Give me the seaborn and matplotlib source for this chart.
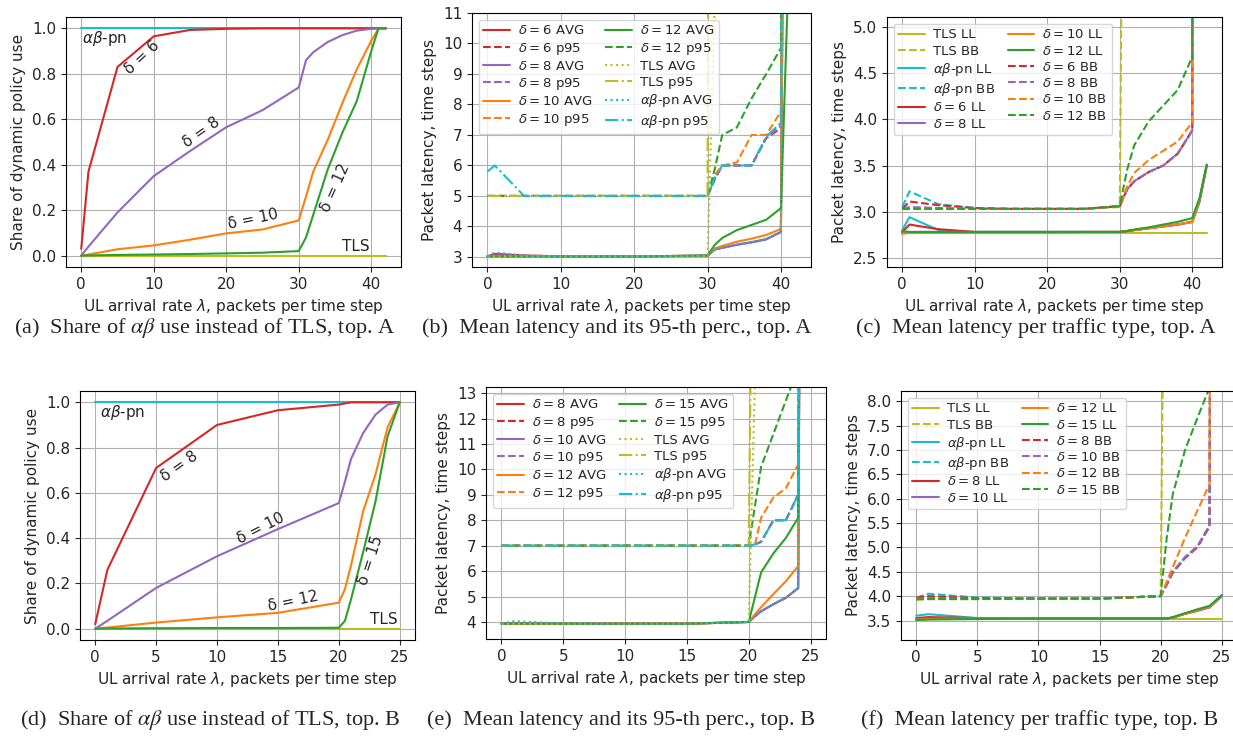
import seaborn as sns
import matplotlib.pyplot as plt

sns.set_style('ticks', {'axes.grid': True, 'grid.color': '#b0b0b0'})
plt.rcParams['font.family'] = ['DejaVu Sans']
plt.rcParams['mathtext.fontset'] = 'dejavusans'

C6, C8, C10, C12 = '#d62728', '#9467bd', '#ff7f0e', '#2ca02c'
CTLS, CAB = '#bcbd22', '#17becf'

# ---------------- topology A ----------------
x_a = [0, 1, 5, 10, 15, 20, 25, 30, 31, 32, 34, 36, 38, 40, 41, 42]

share_a_ab = [1.0] * 16
share_a_tls = [0.0] * 16
share_a_d6 = [0.03, 0.37, 0.83, 0.965, 0.993, 0.998, 1.0, 1.0, 1.0, 1.0, 1.0, 1.0, 1.0, 1.0, 1.0, 1.0]
share_a_d8 = [0.0, 0.04, 0.19, 0.35, 0.46, 0.565, 0.64, 0.74, 0.86, 0.895, 0.94, 0.97, 0.99, 0.998, 1.0, 1.0]
share_a_d10 = [0.0, 0.005, 0.028, 0.045, 0.07, 0.098, 0.115, 0.155, 0.26, 0.37, 0.51, 0.67, 0.82, 0.945, 1.0, 1.0]
share_a_d12 = [0.0, 0.001, 0.003, 0.005, 0.007, 0.01, 0.013, 0.02, 0.08, 0.18, 0.38, 0.54, 0.68, 0.9, 1.0, 1.0]

avg_a_d6 = [3.02, 3.1, 3.05, 3.02, 3.02, 3.02, 3.03, 3.04, 3.25, 3.3, 3.4, 3.48, 3.58, 3.82, 40, 80]
p95_a_d6 = [5, 5, 5, 5, 5, 5, 5, 5, 5.55, 6, 6, 6, 6.9, 7.22, 60, 100]
avg_a_d8 = [3.02, 3.05, 3.03, 3.02, 3.02, 3.02, 3.03, 3.04, 3.24, 3.3, 3.4, 3.48, 3.58, 3.82, 40, 80]
p95_a_d8 = [5, 5, 5, 5, 5, 5, 5, 5, 5.55, 6, 6, 6, 6.9, 7.3, 60, 100]
avg_a_d10 = [3.02, 3.03, 3.02, 3.02, 3.02, 3.02, 3.03, 3.04, 3.28, 3.36, 3.5, 3.6, 3.72, 3.92, 40, 80]
p95_a_d10 = [5, 5, 5, 5, 5, 5, 5, 5, 5.7, 6, 6.1, 7, 7, 7.77, 60, 100]
avg_a_d12 = [3.02, 3.02, 3.02, 3.02, 3.02, 3.02, 3.03, 3.05, 3.4, 3.62, 3.88, 4.05, 4.22, 4.6, 12, 60]
p95_a_d12 = [5, 5, 5, 5, 5, 5, 5, 5, 5.9, 7.0, 7.25, 8.2, 9.0, 9.85, 60, 100]
avg_a_tls = [3.02, 3.02, 3.02, 3.02, 3.02, 3.02, 3.02, 3.03, 11.5, 20, 30, 40, 50, 60, 70, 80]
p95_a_tls = [5, 5, 5, 5, 5, 5, 5, 5, 100, 100, 100, 100, 100, 100, 100, 100]
avg_a_ab = [3.02, 3.15, 3.04, 3.02, 3.02, 3.02, 3.03, 3.04, 3.25, 3.3, 3.4, 3.48, 3.58, 3.84, 40, 80]
p95_a_ab = [5.8, 6.0, 5.0, 5, 5, 5, 5, 5, 5.6, 6, 6, 6, 6.95, 7.4, 60, 100]

ll_a_tls = [2.77] * 16
bb_a_tls = [3.03, 3.03, 3.03, 3.03, 3.03, 3.03, 3.03, 3.05, 13, 20, 30, 40, 50, 60, 70, 80]
ll_a_ab = [2.8, 2.94, 2.8, 2.78, 2.78, 2.78, 2.78, 2.78, 2.79, 2.8, 2.82, 2.84, 2.86, 2.89, 3.1, 3.5]
bb_a_ab = [3.05, 3.22, 3.08, 3.04, 3.03, 3.03, 3.03, 3.06, 3.24, 3.33, 3.43, 3.5, 3.63, 3.88, 60, 100]
ll_a_d6 = [2.78, 2.86, 2.81, 2.78, 2.78, 2.78, 2.78, 2.78, 2.79, 2.8, 2.82, 2.84, 2.86, 2.89, 3.12, 3.5]
ll_a_d8 = [2.77, 2.78, 2.78, 2.78, 2.78, 2.78, 2.78, 2.78, 2.79, 2.8, 2.82, 2.84, 2.86, 2.89, 3.12, 3.5]
ll_a_d10 = [2.76, 2.77, 2.77, 2.77, 2.77, 2.77, 2.78, 2.78, 2.79, 2.8, 2.82, 2.84, 2.865, 2.885, 3.13, 3.51]
ll_a_d12 = [2.79, 2.78, 2.78, 2.78, 2.78, 2.78, 2.78, 2.78, 2.79, 2.806, 2.83, 2.86, 2.89, 2.93, 3.15, 3.51]
bb_a_d6 = [3.03, 3.11, 3.07, 3.04, 3.03, 3.03, 3.03, 3.06, 3.24, 3.33, 3.43, 3.5, 3.63, 3.88, 60, 100]
bb_a_d8 = [3.03, 3.05, 3.04, 3.03, 3.03, 3.03, 3.03, 3.06, 3.24, 3.33, 3.43, 3.5, 3.63, 3.88, 60, 100]
bb_a_d10 = [3.03, 3.03, 3.03, 3.03, 3.03, 3.03, 3.03, 3.06, 3.27, 3.42, 3.56, 3.66, 3.76, 3.97, 60, 100]
bb_a_d12 = [3.03, 3.03, 3.03, 3.03, 3.03, 3.03, 3.03, 3.06, 3.45, 3.72, 3.98, 4.15, 4.32, 4.68, 60, 100]

# ---------------- topology B ----------------
x_b = [0, 1, 5, 10, 15, 20, 20.5, 21, 22, 23, 24, 25]

share_b_ab = [1.0] * 12
share_b_tls = [0.0] * 12
share_b_d8 = [0.02, 0.26, 0.71, 0.9, 0.965, 0.99, 0.995, 1.0, 1.0, 1.0, 1.0, 1.0]
share_b_d10 = [0.0, 0.035, 0.18, 0.32, 0.44, 0.555, 0.65, 0.75, 0.865, 0.945, 0.99, 1.0]
share_b_d12 = [0.0, 0.005, 0.027, 0.05, 0.07, 0.115, 0.175, 0.28, 0.52, 0.68, 0.89, 1.0]
share_b_d15 = [0.0, 0.001, 0.002, 0.003, 0.003, 0.004, 0.035, 0.13, 0.34, 0.56, 0.85, 1.0]

avg_b_d8 = [3.93, 3.95, 3.93, 3.93, 3.93, 4.0, 4.22, 4.42, 4.7, 4.95, 5.33, 100]
p95_b_d8 = [7, 7, 7, 7, 7, 7, 7.05, 7.15, 8.0, 8.0, 9.0, 100]
avg_b_d10 = [3.93, 3.94, 3.93, 3.93, 3.93, 4.0, 4.22, 4.42, 4.7, 4.95, 5.33, 100]
p95_b_d10 = [7, 7, 7, 7, 7, 7, 7.05, 7.15, 8.0, 8.0, 9.0, 100]
avg_b_d12 = [3.93, 3.93, 3.93, 3.93, 3.93, 4.0, 4.3, 4.58, 5.1, 5.6, 6.2, 100]
p95_b_d12 = [7, 7, 7, 7, 7, 7, 7.03, 8.1, 8.9, 9.25, 10.2, 100]
avg_b_d15 = [3.93, 3.93, 3.93, 3.93, 3.93, 4.0, 4.97, 5.95, 6.7, 7.3, 8.1, 100]
p95_b_d15 = [7, 7, 7, 7, 7, 7, 8.55, 10.1, 11.4, 12.7, 14, 100]
avg_b_tls = [3.93, 3.93, 3.93, 3.93, 3.93, 4.0, 13.4, 30, 60, 80, 90, 100]
p95_b_tls = [7, 7, 7, 7, 7, 7, 29, 60, 80, 90, 100, 100]
avg_b_ab = [3.93, 4.03, 3.94, 3.93, 3.93, 4.0, 4.22, 4.42, 4.7, 4.95, 5.33, 100]
p95_b_ab = [7, 7, 7, 7, 7, 7, 7.05, 7.15, 8.0, 8.0, 9.0, 100]

ll_b_tls = [3.53] * 12
bb_b_tls = [3.95, 3.95, 3.95, 3.95, 3.95, 4.0, 17, 30, 50, 70, 90, 100]
ll_b_ab = [3.6, 3.63, 3.55, 3.54, 3.54, 3.54, 3.54, 3.56, 3.64, 3.71, 3.79, 4.02]
bb_b_ab = [3.97, 4.05, 3.97, 3.95, 3.95, 4.0, 4.25, 4.5, 4.8, 5.02, 5.45, 100]
ll_b_d8 = [3.55, 3.57, 3.55, 3.54, 3.54, 3.54, 3.54, 3.56, 3.64, 3.7, 3.77, 4.0]
ll_b_d10 = [3.53, 3.54, 3.54, 3.54, 3.54, 3.54, 3.54, 3.56, 3.64, 3.7, 3.77, 4.0]
ll_b_d12 = [3.52, 3.53, 3.54, 3.54, 3.54, 3.54, 3.54, 3.56, 3.64, 3.71, 3.78, 4.01]
ll_b_d15 = [3.51, 3.52, 3.53, 3.54, 3.54, 3.54, 3.54, 3.57, 3.65, 3.73, 3.8, 4.02]
bb_b_d8 = [3.97, 4.0, 3.96, 3.95, 3.95, 4.0, 4.23, 4.48, 4.78, 5.0, 5.42, 100]
bb_b_d10 = [3.95, 3.96, 3.95, 3.95, 3.95, 4.0, 4.25, 4.5, 4.8, 5.02, 5.45, 100]
bb_b_d12 = [3.94, 3.94, 3.94, 3.95, 3.95, 4.0, 4.3, 4.6, 5.2, 5.75, 6.3, 100]
bb_b_d15 = [3.93, 3.94, 3.94, 3.95, 3.95, 4.0, 5.2, 6.1, 7.0, 7.65, 8.28, 100]

W, H = 1233, 737
fig = plt.figure(figsize=(W / 100, H / 100), dpi=100)


def add_ax(l, r, t, b):
    return fig.add_axes([l / W, 1 - b / H, (r - l) / W, (b - t) / H])


def draw(ax, x, series):
    for y, c, ls, lab in series:
        sns.lineplot(x=x, y=y, ax=ax, color=c, linestyle=ls, label=lab, lw=1.5, legend=False)


XL = r'UL arrival rate $\lambda$, packets per time step'
FS = 11
d = lambda n: r'$\delta=%d$' % n
ab = r'$\alpha\beta$-pn'


def finish(ax, ylab, with_legend=False):
    ax.set_xlabel(XL, fontsize=FS)
    ax.set_ylabel(ylab, fontsize=FS)
    ax.tick_params(labelsize=FS)
    for s in ax.spines.values():
        s.set_visible(True)
        s.set_color('black')
    if with_legend:
        ax.legend(ncol=2, loc='upper left', fontsize=9.5, labelspacing=0.25,
                  columnspacing=1.0, handletextpad=0.6, borderpad=0.35)


def share_panel(ax, x, series, labels, xticks):
    draw(ax, x, series)
    ax.set_xticks(xticks)
    ax.set_yticks([0.0, 0.2, 0.4, 0.6, 0.8, 1.0])
    for tx, ty, s, rot in labels:
        ax.text(tx, ty, s, fontsize=FS, rotation=rot, ha='center', va='center',
                rotation_mode='anchor')
    finish(ax, 'Share of dynamic policy use')


# (a)
ax = add_ax(66, 401, 17, 267)
share_panel(ax, x_a, [
    (share_a_ab, CAB, '-', None), (share_a_tls, CTLS, '-', None),
    (share_a_d6, C6, '-', None), (share_a_d8, C8, '-', None),
    (share_a_d10, C10, '-', None), (share_a_d12, C12, '-', None)],
    [(3.2, 0.955, ab, 0), (8.4, 0.872, 'δ = 6', 43), (16.6, 0.544, 'δ = 8', 35),
     (23.7, 0.16, 'δ = 10', 12), (35.1, 0.30, 'δ = 12', 66), (37.9, 0.04, 'TLS', 0)],
    [0, 10, 20, 30, 40])

# (b)
ax = add_ax(472, 811, 13, 267)
draw(ax, x_a, [
    (avg_a_d6, C6, '-', d(6) + ' AVG'), (p95_a_d6, C6, '--', d(6) + ' p95'),
    (avg_a_d8, C8, '-', d(8) + ' AVG'), (p95_a_d8, C8, '--', d(8) + ' p95'),
    (avg_a_d10, C10, '-', d(10) + ' AVG'), (p95_a_d10, C10, '--', d(10) + ' p95'),
    (avg_a_d12, C12, '-', d(12) + ' AVG'), (p95_a_d12, C12, '--', d(12) + ' p95'),
    (avg_a_tls, CTLS, ':', 'TLS AVG'), (p95_a_tls, CTLS, '-.', 'TLS p95'),
    (avg_a_ab, CAB, ':', ab + ' AVG'), (p95_a_ab, CAB, '-.', ab + ' p95')])
ax.set_xlim(-2.1, 44.1)
ax.set_ylim(2.67, 11)
ax.set_xticks([0, 10, 20, 30, 40])
ax.set_yticks(range(3, 12))
finish(ax, 'Packet latency, time steps', True)

# (c)
ax = add_ax(887, 1222, 17, 267)
draw(ax, x_a, [
    (ll_a_tls, CTLS, '-', 'TLS LL'), (bb_a_tls, CTLS, '--', 'TLS BB'),
    (ll_a_ab, CAB, '-', ab + ' LL'), (bb_a_ab, CAB, '--', ab + ' BB'),
    (ll_a_d6, C6, '-', d(6) + ' LL'), (ll_a_d8, C8, '-', d(8) + ' LL'),
    (ll_a_d10, C10, '-', d(10) + ' LL'), (ll_a_d12, C12, '-', d(12) + ' LL'),
    (bb_a_d6, C6, '--', d(6) + ' BB'), (bb_a_d8, C8, '--', d(8) + ' BB'),
    (bb_a_d10, C10, '--', d(10) + ' BB'), (bb_a_d12, C12, '--', d(12) + ' BB')])
ax.set_xlim(-2.1, 44.1)
ax.set_ylim(2.4, 5.11)
ax.set_xticks([0, 10, 20, 30, 40])
ax.set_yticks([2.5, 3.0, 3.5, 4.0, 4.5, 5.0])
finish(ax, 'Packet latency, time steps', True)

# (d)
ax = add_ax(80, 415, 391, 640)
share_panel(ax, x_b, [
    (share_b_ab, CAB, '-', None), (share_b_tls, CTLS, '-', None),
    (share_b_d8, C6, '-', None), (share_b_d10, C8, '-', None),
    (share_b_d12, C10, '-', None), (share_b_d15, C12, '-', None)],
    [(2.25, 0.954, ab, 0), (6.9, 0.716, 'δ = 8', 35), (13.55, 0.444, 'δ = 10', 27),
     (16.2, 0.12, 'δ = 12', 12), (22.6, 0.30, 'δ = 15', 72), (23.7, 0.04, 'TLS', 0)],
    [0, 5, 10, 15, 20, 25])

# (e)
ax = add_ax(486, 826, 387, 639)
draw(ax, x_b, [
    (avg_b_d8, C6, '-', d(8) + ' AVG'), (p95_b_d8, C6, '--', d(8) + ' p95'),
    (avg_b_d10, C8, '-', d(10) + ' AVG'), (p95_b_d10, C8, '--', d(10) + ' p95'),
    (avg_b_d12, C10, '-', d(12) + ' AVG'), (p95_b_d12, C10, '--', d(12) + ' p95'),
    (avg_b_d15, C12, '-', d(15) + ' AVG'), (p95_b_d15, C12, '--', d(15) + ' p95'),
    (avg_b_tls, CTLS, ':', 'TLS AVG'), (p95_b_tls, CTLS, '-.', 'TLS p95'),
    (avg_b_ab, CAB, ':', ab + ' AVG'), (p95_b_ab, CAB, '-.', ab + ' p95')])
ax.set_xlim(-1.25, 26.25)
ax.set_ylim(3.33, 13.24)
ax.set_xticks([0, 5, 10, 15, 20, 25])
ax.set_yticks(range(4, 14))
finish(ax, 'Packet latency, time steps', True)

# (f)
ax = add_ax(901, 1237, 391, 640)
draw(ax, x_b, [
    (ll_b_tls, CTLS, '-', 'TLS LL'), (bb_b_tls, CTLS, '--', 'TLS BB'),
    (ll_b_ab, CAB, '-', ab + ' LL'), (bb_b_ab, CAB, '--', ab + ' BB'),
    (ll_b_d8, C6, '-', d(8) + ' LL'), (ll_b_d10, C8, '-', d(10) + ' LL'),
    (ll_b_d12, C10, '-', d(12) + ' LL'), (ll_b_d15, C12, '-', d(15) + ' LL'),
    (bb_b_d8, C6, '--', d(8) + ' BB'), (bb_b_d10, C8, '--', d(10) + ' BB'),
    (bb_b_d12, C10, '--', d(12) + ' BB'), (bb_b_d15, C12, '--', d(15) + ' BB')])
ax.set_xlim(-1.25, 26.25)
ax.set_ylim(3.1, 8.21)
ax.set_xticks([0, 5, 10, 15, 20, 25])
ax.set_yticks([3.5, 4.0, 4.5, 5.0, 5.5, 6.0, 6.5, 7.0, 7.5, 8.0])
finish(ax, 'Packet latency, time steps', True)

captions = [
    (205, 328, r'(a)  Share of $\alpha\beta$ use instead of TLS, top. A'),
    (617, 328, r'(b)  Mean latency and its 95-th perc., top. A'),
    (1036, 328, r'(c)  Mean latency per traffic type, top. A'),
    (210, 720, r'(d)  Share of $\alpha\beta$ use instead of TLS, top. B'),
    (621, 720, r'(e)  Mean latency and its 95-th perc., top. B'),
    (1040, 720, r'(f)  Mean latency per traffic type, top. B'),
]
for cx, cy, s in captions:
    fig.text(cx / W, 1 - cy / H, s, ha='center', va='center', fontsize=16,
             family='Liberation Serif', math_fontfamily='stix')

fig.savefig('out.png', dpi=100)
